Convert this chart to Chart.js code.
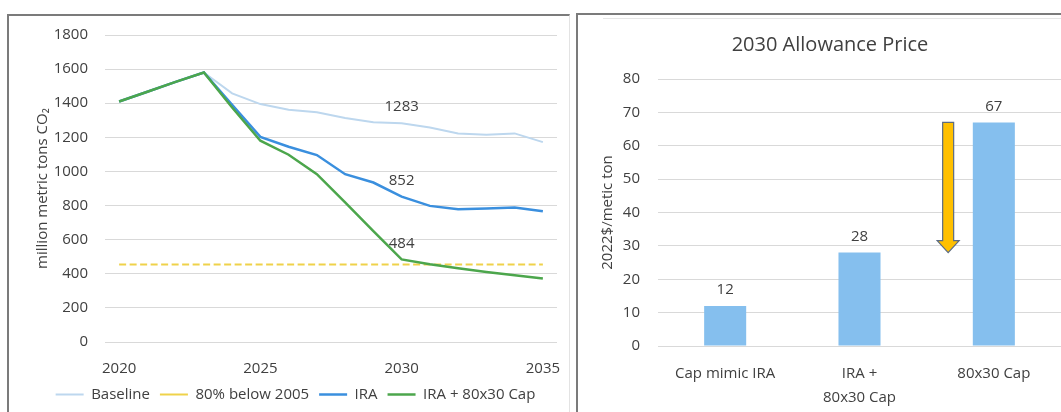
<!DOCTYPE html>
<html>
<head>
<meta charset="utf-8">
<script src="https://cdn.jsdelivr.net/npm/chart.js@4.4.1/dist/chart.umd.min.js"></script>
<style>
  html, body { margin: 0; padding: 0; background: #fff; width: 1061px; height: 412px; overflow: hidden; position: relative; }
  canvas { position: absolute; }
  #emissions { left: 10px; top: 16px; }
  #price { left: 579px; top: 20px; }
  .frame { position: absolute; box-sizing: border-box; }
  #frameLeft { left: 7px; top: 14px; width: 563px; height: 420px; border-left: 2px solid #7b7b7b; border-top: 2px solid #7b7b7b; border-right: 1px solid #e3e3e3; }
  #frameRight { left: 576px; top: 13px; width: 500px; height: 420px; border-left: 2px solid #7b7b7b; border-top: 2px solid #7b7b7b; }
  #ruleRight { left: 603px; top: 18px; width: 458px; height: 0; border-top: 1px solid #e6e6e6; }
</style>
</head>
<body>
<div class="frame" id="frameLeft"></div>
<div class="frame" id="frameRight"></div>
<div class="frame" id="ruleRight"></div>
<canvas id="emissions" width="559" height="396"></canvas>
<canvas id="price" width="482" height="392"></canvas>
<script>
// ---- Emissions pathways (million metric tons CO2) ----
const years = ['2020','2021','2022','2023','2024','2025','2026','2027','2028','2029','2030','2031','2032','2033','2034','2035'];
const baseline = [1410, 1467, 1525, 1580, 1458, 1395, 1362, 1347, 1313, 1288, 1283, 1258, 1223, 1215, 1223, 1172];
const target80 = [455, 455, 455, 455, 455, 455, 455, 455, 455, 455, 455, 455, 455, 455, 455, 455];
const ira      = [1410, 1467, 1525, 1580, 1390, 1203, 1145, 1096, 984, 935, 852, 798, 779, 783, 789, 767];
const iraCap   = [1410, 1467, 1525, 1580, 1375, 1180, 1098, 984, 818, 650, 484, 456, 432, 411, 391, 372];
const emissionTicks = ['2020', '2025', '2030', '2035'];
const labelledYear = '2030';

// ---- 2030 allowance price (2022$/metric ton) ----
const scenarios = ['Cap mimic IRA', ['IRA +', '80x30 Cap'], '80x30 Cap'];
const prices = [12, 28, 67];
const priceDrop = { from: 67, to: 28 };

const TEXT = '#404040';
const GRID = '#d9d9d9';
const FONT = "'Open Sans', 'Noto Sans', sans-serif";
Chart.defaults.font.family = FONT;
Chart.defaults.color = TEXT;

// value labels on the 2030 points
const pointLabels = {
  id: 'pointLabels',
  afterDatasetsDraw(chart) {
    const ctx = chart.ctx;
    const idx = chart.data.labels.indexOf(labelledYear);
    ctx.save();
    ctx.font = '15px ' + FONT;
    ctx.fillStyle = TEXT;
    ctx.textAlign = 'center';
    ctx.textBaseline = 'middle';
    chart.data.datasets.forEach((ds, d) => {
      if (!ds.showValue) return;
      const pt = chart.getDatasetMeta(d).data[idx];
      ctx.fillText(String(ds.data[idx]), pt.x, pt.y - 16);
    });
    ctx.restore();
  }
};

new Chart(document.getElementById('emissions'), {
  type: 'line',
  data: {
    labels: years,
    datasets: [
      { label: 'Baseline', data: baseline, borderColor: '#bdd7ee', borderWidth: 2, order: 3, showValue: true },
      { label: '80% below 2005', data: target80, borderColor: '#efd24a', borderWidth: 2, borderDash: [7, 3.5], order: 2 },
      { label: 'IRA', data: ira, borderColor: '#3a8fde', borderWidth: 2.5, order: 1, showValue: true },
      { label: 'IRA + 80x30 Cap', data: iraCap, borderColor: '#4ca64c', borderWidth: 2.5, order: 0, showValue: true }
    ]
  },
  options: {
    responsive: false,
    animation: false,
    devicePixelRatio: 1,
    elements: { point: { radius: 0 }, line: { tension: 0, fill: false } },
    layout: { padding: { left: 24, right: 12, top: 19, bottom: 0 } },
    plugins: {
      tooltip: { enabled: false },
      legend: {
        position: 'bottom',
        labels: {
          usePointStyle: true,
          pointStyle: 'line',
          pointStyleWidth: 28,
          boxWidth: 28,
          padding: 10,
          color: TEXT,
          font: { size: 15 },
          sort: (a, b) => a.datasetIndex - b.datasetIndex
        }
      }
    },
    scales: {
      x: {
        offset: true,
        grid: { display: false, drawTicks: false },
        border: { display: false },
        ticks: {
          autoSkip: false, maxRotation: 0, padding: 18, color: TEXT, font: { size: 15 },
          callback: (v, i) => emissionTicks.includes(years[i]) ? years[i] : ''
        },
        afterFit: s => { s.height = 35; s.paddingLeft = 0; s.paddingRight = 0; }
      },
      y: {
        min: 0, max: 1800,
        ticks: { stepSize: 200, padding: 17, color: TEXT, font: { size: 15 }, callback: v => String(v) },
        grid: { color: GRID, drawTicks: false },
        border: { display: false },
        title: { display: true, text: 'million metric tons CO₂', color: TEXT, font: { size: 15 }, padding: { top: 0, bottom: 0 } },
        afterFit: s => { s.width = 71; s.paddingTop = 0; s.paddingBottom = 0; }
      }
    }
  },
  plugins: [pointLabels]
});

// value labels above bars + the downward price arrow
const barLabels = {
  id: 'barLabels',
  afterDatasetsDraw(chart) {
    const ctx = chart.ctx;
    const meta = chart.getDatasetMeta(0);
    ctx.save();
    ctx.font = '15px ' + FONT;
    ctx.fillStyle = TEXT;
    ctx.textAlign = 'center';
    ctx.textBaseline = 'middle';
    meta.data.forEach((bar, i) => ctx.fillText(String(prices[i]), bar.x, bar.y - 16));
    ctx.restore();
  }
};

const dropArrow = {
  id: 'dropArrow',
  afterDatasetsDraw(chart) {
    const { ctx, scales: { x, y } } = chart;
    const cx = x.getPixelForValue(1.66);
    const top = y.getPixelForValue(priceDrop.from);
    const tip = y.getPixelForValue(priceDrop.to);
    const shaft = 5.5, head = 11, headLen = 12;
    ctx.save();
    ctx.beginPath();
    ctx.moveTo(cx - shaft, top);
    ctx.lineTo(cx + shaft, top);
    ctx.lineTo(cx + shaft, tip - headLen);
    ctx.lineTo(cx + head, tip - headLen);
    ctx.lineTo(cx, tip);
    ctx.lineTo(cx - head, tip - headLen);
    ctx.lineTo(cx - shaft, tip - headLen);
    ctx.closePath();
    ctx.fillStyle = '#ffc000';
    ctx.fill();
    ctx.lineWidth = 1.2;
    ctx.strokeStyle = '#5b6b82';
    ctx.stroke();
    ctx.restore();
  }
};

new Chart(document.getElementById('price'), {
  type: 'bar',
  data: {
    labels: scenarios,
    datasets: [{ data: prices, backgroundColor: '#85bfee', barPercentage: 0.313, categoryPercentage: 1 }]
  },
  options: {
    responsive: false,
    animation: false,
    devicePixelRatio: 1,
    layout: { padding: { left: 20, right: 0, top: 0, bottom: 0 } },
    plugins: {
      tooltip: { enabled: false },
      legend: { display: false },
      title: {
        display: true, text: '2030 Allowance Price', color: TEXT,
        font: { size: 20, weight: 'normal' }, padding: { top: 13, bottom: 22 }
      }
    },
    scales: {
      x: {
        grid: { display: false, drawTicks: false },
        border: { display: false },
        ticks: { padding: 16, color: TEXT, font: { size: 15, lineHeight: 1.6 }, maxRotation: 0 },
        afterFit: s => { s.height = 66; s.paddingLeft = 0; s.paddingRight = 0; }
      },
      y: {
        min: 0, max: 80,
        ticks: { stepSize: 10, padding: 18, color: TEXT, font: { size: 15 } },
        grid: { color: GRID, drawTicks: false },
        border: { display: false },
        title: { display: true, text: '2022$/metic ton', color: TEXT, font: { size: 15 }, padding: { top: 0, bottom: 0 } },
        afterFit: s => { s.width = 59; }
      }
    }
  },
  plugins: [barLabels, dropArrow]
});
</script>
</body>
</html>
